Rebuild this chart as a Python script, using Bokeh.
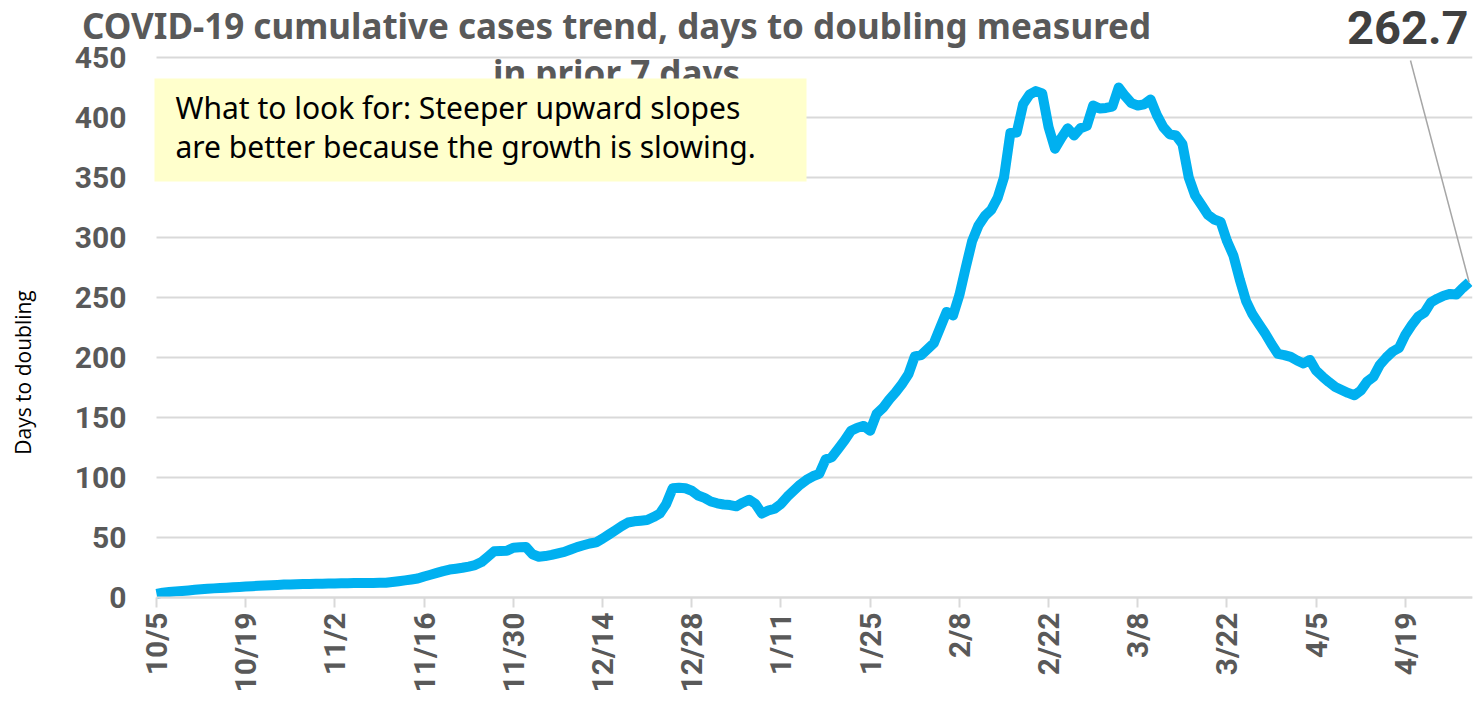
import math
from bokeh.plotting import figure
from bokeh.models import (Range1d, FixedTicker, Label, BoxAnnotation, ColumnDataSource)
from bokeh.embed import file_html
from bokeh.resources import INLINE

# ---- data -----------------------------------------------------------------
title_line1 = "COVID-19 cumulative cases trend, days to doubling measured"
title_line2 = "in prior 7 days"
note_line1 = "What to look for: Steeper upward slopes"
note_line2 = "are better because the growth is slowing."
y_label = "Days to doubling"

# days to doubling, one value per day starting 10/5
days_to_doubling = [
    3.0, 4.0, 4.6, 5.1, 5.5, 5.9, 6.4, 6.8, 7.2, 7.6, 7.9, 8.2, 8.5, 8.8,
    9.1, 9.4, 9.7, 10.0, 10.2, 10.5, 10.8, 10.9, 11.1, 11.2, 11.3, 11.4, 11.5, 11.6,
    11.7, 11.8, 11.9, 12.0, 12.0, 12.1, 12.1, 12.2, 12.3, 12.9, 13.6, 14.3, 15.0, 15.8,
    17.5, 19.0, 20.5, 22.0, 23.3, 24.0, 24.8, 25.8, 27.0, 29.5, 34.0, 38.5, 38.8, 38.9,
    41.5, 41.8, 42.0, 36.0, 34.0, 34.5, 35.5, 36.8, 38.0, 40.0, 42.0, 43.5, 45.0, 46.0,
    49.0, 52.5, 56.0, 59.5, 62.5, 63.5, 64.0, 64.5, 67.0, 70.0, 78.0, 91.0, 91.5, 91.0,
    89.0, 85.0, 83.0, 80.0, 78.5, 77.5, 77.0, 76.0, 79.0, 81.5, 78.0, 70.0, 72.5, 74.0,
    78.0, 84.0, 89.0, 94.0, 98.0, 101.0, 103.0, 115.0, 117.0, 124.0, 131.0, 139.0, 141.5, 143.0,
    139.0, 153.0, 158.0, 165.0, 171.0, 178.0, 186.0, 201.0, 202.0, 207.0, 212.0, 225.0, 238.0, 235.0,
    252.0, 275.0, 297.0, 310.0, 318.0, 323.0, 333.0, 350.0, 387.0, 387.5, 411.0, 419.0, 422.0, 420.0,
    392.0, 374.0, 383.0, 391.0, 385.0, 391.0, 393.0, 410.0, 407.5, 408.0, 409.0, 425.0, 418.0, 412.0,
    410.0, 411.0, 415.0, 402.0, 392.0, 386.0, 385.0, 378.0, 350.0, 335.0, 327.0, 319.0, 315.0, 313.0,
    297.0, 285.0, 265.0, 247.0, 236.0, 228.0, 220.0, 211.0, 203.0, 202.0, 200.5, 197.5, 195.0, 198.0,
    189.0, 184.0, 179.5, 175.5, 173.0, 170.5, 168.5, 172.5, 180.0, 184.0, 194.0, 200.0, 205.0, 208.0,
    219.0, 227.0, 234.0, 237.5, 246.0, 249.0, 251.5, 253.0, 252.5, 258.0, 262.7,
]
day_index = list(range(len(days_to_doubling)))

tick_days = [0, 14, 28, 42, 56, 70, 84, 98, 112, 126, 140, 154, 168, 182, 196]
tick_labels = ["10/5", "10/19", "11/2", "11/16", "11/30", "12/14", "12/28", "1/11",
               "1/25", "2/8", "2/22", "3/8", "3/22", "4/5", "4/19"]
y_ticks = [0, 50, 100, 150, 200, 250, 300, 350, 400, 450]

# ---- layout (pixels) ------------------------------------------------------
W, H = 1474, 702
X0_PX, PX_PER_DAY = 156, 6.372        # day 0 at this canvas column
PLOT_R = 1472                          # right edge of the plotting area
Y0_PX, PX_PER_UNIT = 597, 1.2          # value 0 at this canvas row
# the frame covers the whole canvas so that no text gets clipped
X_START = -X0_PX / PX_PER_DAY
X_END = (PLOT_R - X0_PX) / PX_PER_DAY
Y_START = -(H - Y0_PX) / PX_PER_UNIT
Y_END = Y0_PX / PX_PER_UNIT


def dx(px):
    return (px - X0_PX) / PX_PER_DAY


def dy(py):
    return (Y0_PX - py) / PX_PER_UNIT


last_day = day_index[-1]
last_val = days_to_doubling[-1]

p = figure(width=W, height=H, output_backend="svg", toolbar_location=None,
           x_range=Range1d(X_START, X_END), y_range=Range1d(Y_START, Y_END),
           min_border_left=0, min_border_right=W - PLOT_R,
           min_border_top=0, min_border_bottom=0)
p.outline_line_color = None
p.background_fill_color = "white"
p.border_fill_color = "white"

grid_col = "#d9d9d9"
tick_col = "#595959"

p.xgrid.visible = False
p.ygrid.visible = False
# horizontal gridlines spanning only the plotting area (day 0 .. right edge)
p.segment(x0=[0] * len(y_ticks), x1=[X_END] * len(y_ticks), y0=y_ticks, y1=y_ticks,
          line_color=grid_col, line_width=2, level="underlay")

p.yaxis.fixed_location = 0
p.yaxis.bounds = (0, 450)
p.yaxis.ticker = FixedTicker(ticks=y_ticks)
p.yaxis.axis_line_color = None
p.yaxis.major_tick_line_color = None
p.yaxis.minor_tick_line_color = None
p.yaxis.major_tick_out = 0
p.yaxis.major_tick_in = 0
p.yaxis.major_label_standoff = 30
p.yaxis.major_label_text_font = "Roboto"
p.yaxis.major_label_text_font_style = "bold"
p.yaxis.major_label_text_font_size = "30px"
p.yaxis.major_label_text_color = tick_col

p.xaxis.fixed_location = 0
p.xaxis.bounds = (0, X_END)
p.xaxis.ticker = FixedTicker(ticks=tick_days)
p.xaxis.major_label_overrides = {d: l for d, l in zip(tick_days, tick_labels)}
p.xaxis.major_label_orientation = math.pi / 2
p.xaxis.axis_line_color = grid_col
p.xaxis.axis_line_width = 2
p.xaxis.major_tick_line_color = grid_col
p.xaxis.major_tick_line_width = 2
p.xaxis.major_tick_out = 10
p.xaxis.major_tick_in = 0
p.xaxis.minor_tick_line_color = None
p.xaxis.major_label_standoff = 5
p.xaxis.major_label_text_font = "Roboto"
p.xaxis.major_label_text_font_style = "bold"
p.xaxis.major_label_text_font_size = "30px"
p.xaxis.major_label_text_color = tick_col

src = ColumnDataSource(dict(x=day_index, y=days_to_doubling))
p.line("x", "y", source=src, line_color="#00B0F0", line_width=10, line_join="round", line_cap="butt")

# y axis title
p.add_layout(Label(x=dx(22), y=dy(372), text=y_label, angle=math.pi / 2,
                   text_align="center", text_baseline="middle", text_font="Open Sans",
                   text_font_size="21px", text_color="black"))

# chart title (the note box overlaps its second line)
title_kw = dict(text_align="center", text_baseline="middle", text_font="Noto Sans",
                text_font_style="bold", text_font_size="35px", text_color="#595959")
p.add_layout(Label(x=dx(616), y=dy(25), text=title_line1, **title_kw))
p.add_layout(Label(x=dx(616), y=dy(72), text=title_line2, **title_kw))

# note box
p.add_layout(BoxAnnotation(left=dx(154), right=dx(806), bottom=dy(181), top=dy(78),
                           fill_color="#FFFFCC", fill_alpha=1.0, line_color=None))
note_kw = dict(text_align="left", text_baseline="middle", text_font="Noto Sans",
               text_font_size="30px", text_color="black")
p.add_layout(Label(x=dx(175), y=dy(107), text=note_line1, **note_kw))
p.add_layout(Label(x=dx(175), y=dy(146), text=note_line2, **note_kw))

# last value callout
p.segment(x0=[dx(1410)], y0=[dy(60)], x1=[last_day], y1=[last_val], line_color="#A6A6A6", line_width=1.5)
p.add_layout(Label(x=dx(1468), y=dy(27), text=f"{last_val:.1f}", text_align="right",
                   text_baseline="middle", text_font="Roboto", text_font_style="bold",
                   text_font_size="47px", text_color="#404040"))

open("out.html", "w").write(file_html(p, INLINE))
